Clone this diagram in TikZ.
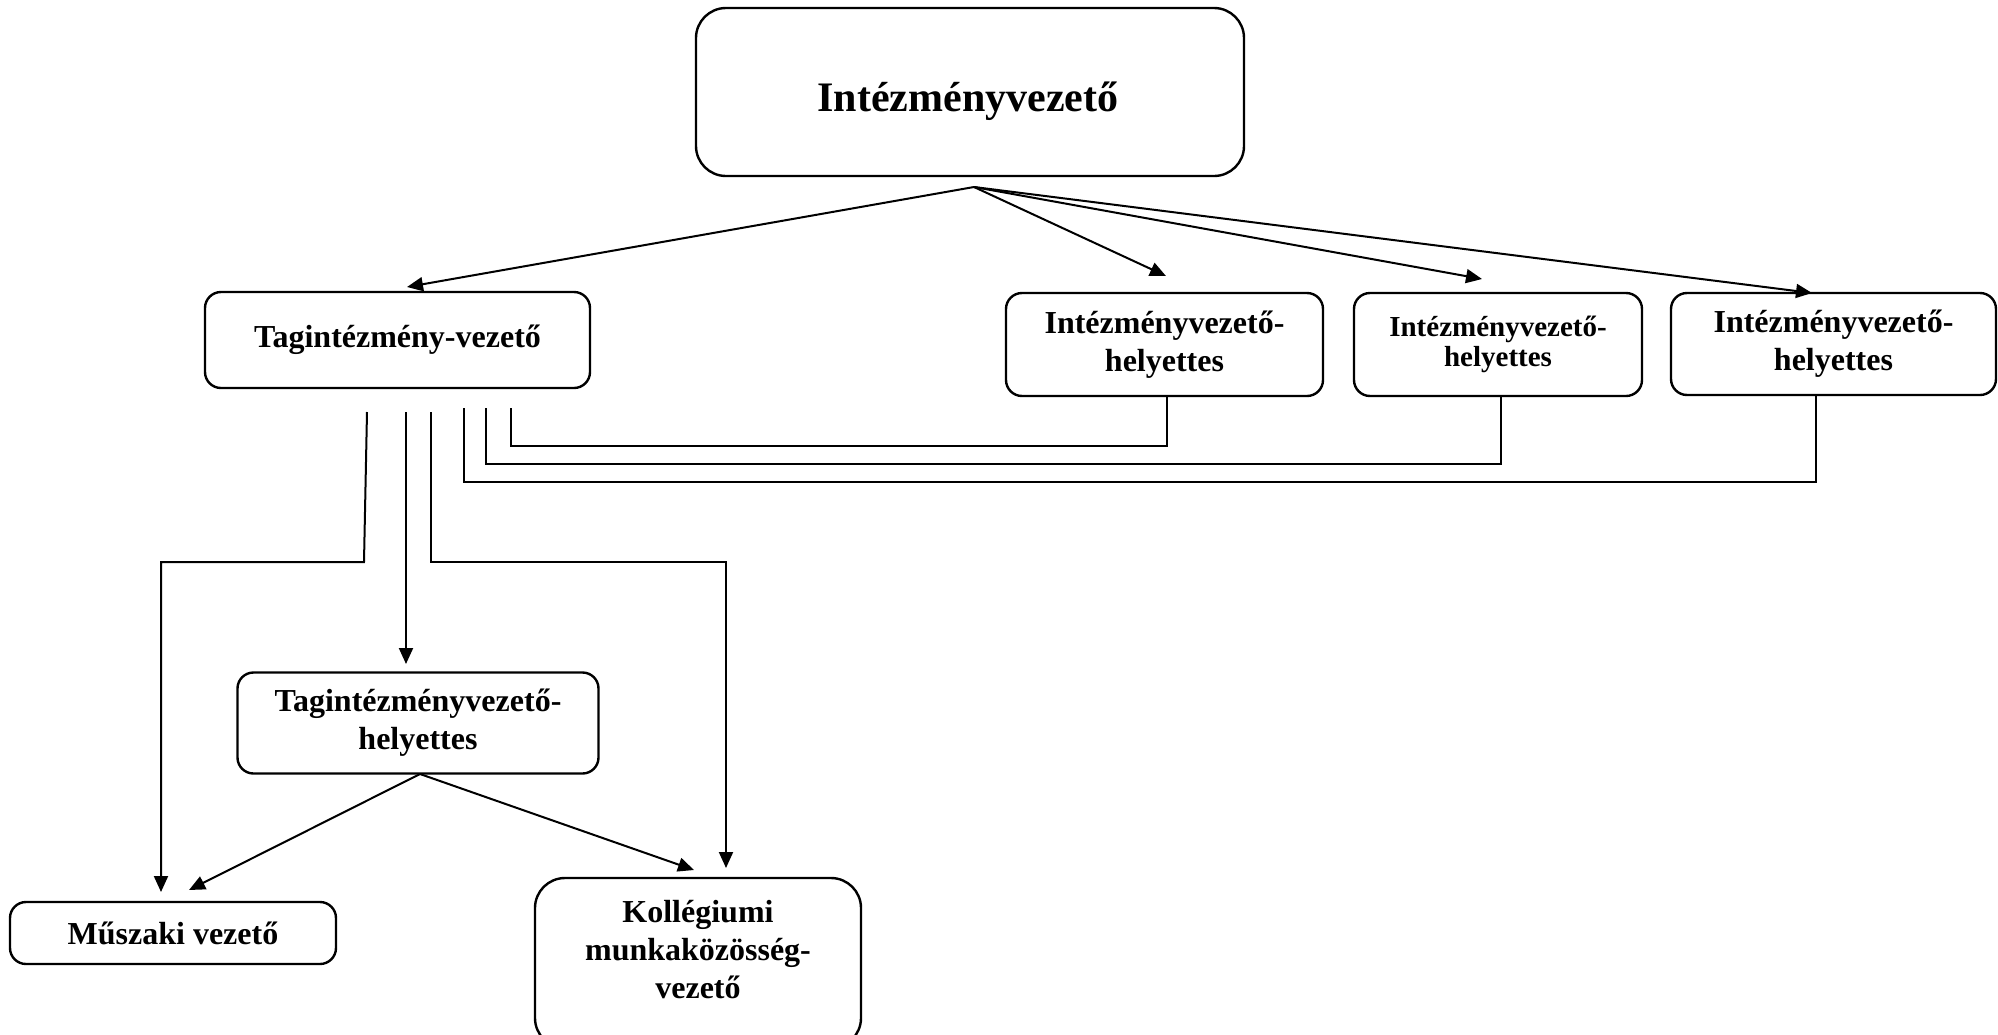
\documentclass[tikz,border=0pt]{standalone}
\usepackage{fontspec}
\setmainfont{Liberation Serif}
\usetikzlibrary{arrows.meta,calc}
\begin{document}
\begin{tikzpicture}[x=1pt,y=-1pt,
  box/.style={draw,line width=2.4pt,rounded corners=16pt,inner sep=0pt,align=center,font=\bfseries\fontsize{32}{38}\selectfont},
  lbl/.style={inner sep=0pt,align=center,font=\bfseries\fontsize{32}{38}\selectfont},
  conn/.style={line width=2pt},
  arr/.style={line width=2pt,-{Triangle[length=16pt,width=14pt]}}]
\useasboundingbox (0,0) rectangle (1998,1034);
% boxes
\node[box,rounded corners=30pt,minimum width=548pt,minimum height=168pt] (top) at (970,92) {};
\node[lbl,font=\bfseries\fontsize{42}{48}\selectfont] (topt) at (968,101) {Intézményvezető};
\node[box,minimum width=385pt,minimum height=96pt] (tag) at (397.5,340) {\raisebox{5pt}{Tagintézmény-vezető}};
\node[box,minimum width=317pt,minimum height=103pt] (v1) at (1164.5,344.5) {Intézményvezető-\\helyettes};
\node[box,minimum width=288pt,minimum height=103pt,font=\bfseries\fontsize{29}{36}\selectfont] (v2) at (1498,344.5) {\raisebox{4pt}{\shortstack{Intézményvezető-\\[0pt]helyettes}}};
\node[box,minimum width=325pt,minimum height=102pt] (v3) at (1833.5,344) {Intézményvezető-\\helyettes};
\node[box,minimum width=361pt,minimum height=101pt] (tvh) at (418,723) {Tagintézményvezető-\\helyettes};
\node[box,minimum width=326pt,minimum height=62pt] (mus) at (173,933) {Műszaki vezető};
\node[box,rounded corners=30pt,minimum width=326pt,minimum height=170pt] (kol) at (698,963) {};
\node[lbl] (kolt) at (698,950) {Kollégiumi\\munkaközösség-\\vezető};
% coordinates
\coordinate (o) at (974,187);
\coordinate (etag) at (407,287);
\coordinate (ev1) at (1166,276);
\coordinate (ev2) at (1482,279);
\coordinate (ev3) at (1812,293);
\coordinate (r1) at (511,408);
\coordinate (r2) at (486,408);
\coordinate (r3) at (464,408);
\coordinate (l1) at (367,412);
\coordinate (l1b) at (364,562);
\coordinate (emus) at (161,892);
\coordinate (l2) at (406,412);
\coordinate (etvh) at (406,664);
\coordinate (l3) at (431,412);
\coordinate (ekol) at (726,868);
\coordinate (tvho) at (420,774);
\coordinate (emus2) at (189,890);
\coordinate (ekol2) at (694,870);
% arrows from top
\draw[arr] (o) -- (etag);
\draw[arr] (o) -- (ev1);
\draw[arr] (o) -- (ev2);
\draw[arr] (o) -- (ev3);
% lines to deputies
\draw[conn] (r1) -- ++(0,38) -| ($(v1.south)+(2.5,0)$);
\draw[conn] (r2) -- ++(0,56) -| ($(v2.south)+(3,0)$);
\draw[conn] (r3) -- ++(0,74) -| ($(v3.south)+(-17.5,0)$);
% left group
\draw[arr] (l1) -- (l1b) -| (emus);
\draw[arr] (l2) -- (etvh);
\draw[arr] (l3) -- ++(0,150) -| (ekol);
\draw[arr] (tvho) -- (emus2);
\draw[arr] (tvho) -- (ekol2);
\end{tikzpicture}
\end{document}
